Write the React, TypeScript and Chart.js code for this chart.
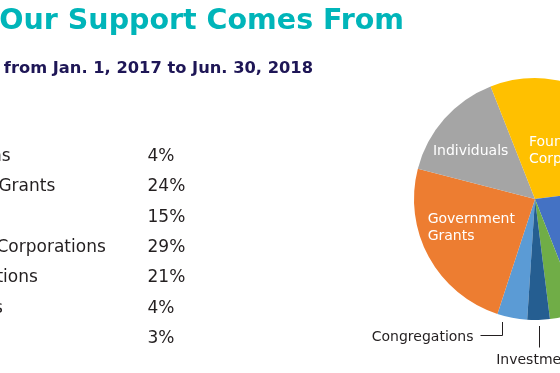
import React, { useEffect, useRef } from "react";
import { Chart, registerables } from "chart.js";

Chart.register(...registerables);

// ---------- data ----------
const categories = [
  "Congregations",
  "Government Grants",
  "Individuals",
  "Foundations/Corporations",
  "In-Kind Donations",
  "Program Fees",
  "Investments",
];
const shares = [4, 24, 15, 29, 21, 4, 3];
const pieLabelLines = [
  ["Congregations"],
  ["Government", "Grants"],
  ["Individuals"],
  ["Foundations/", "Corporations"],
  ["In-Kind", "Donations"],
  ["Program Fees"],
  ["Investments"],
];
const titleText = "Where Our Support Comes From";
const subtitlePrefix = "Revenue";
const subtitleText = "from Jan. 1, 2017 to Jun. 30, 2018";

// ---------- styles ----------
const sliceColors = ["#5B9BD5", "#ED7D31", "#A5A5A5", "#FFC000", "#4472C4", "#70AD47", "#255E91"];
const FONT = "'DejaVu Sans', 'Noto Sans', sans-serif";
const TEAL = "#00B5B9";
const NAVY = "#1E1656";
const INK = "#231F20";

const CANVAS_W = 800;
const CANVAS_H = 373;

type LabelStyle =
  | { mode: "inside"; dx: number; dy: number }
  | { mode: "elbowLeft" | "elbowRight"; frac: number; drop: number; run: number; gap: number }
  | { mode: "down"; frac: number; drop: number; gap: number };

const labelStyles: LabelStyle[] = [
  { mode: "elbowLeft", frac: 0.8, drop: 13, run: 22, gap: 7 },
  { mode: "inside", dx: 0, dy: -7.5 },
  { mode: "inside", dx: -10, dy: -1.5 },
  { mode: "inside", dx: 2, dy: 12.5 },
  { mode: "inside", dx: 0, dy: 0 },
  { mode: "elbowRight", frac: 0.5, drop: 13, run: 22, gap: 7 },
  { mode: "down", frac: 0.5, drop: 21, gap: 6 },
];

const overlayPlugin = {
  id: "overlay",
  afterDatasetsDraw(chart: any) {
    const ctx: CanvasRenderingContext2D = chart.ctx;
    ctx.save();
    ctx.textBaseline = "alphabetic";

    // title
    ctx.font = `700 28.5px ${FONT}`;
    ctx.fillStyle = TEAL;
    ctx.textAlign = "right";
    ctx.fillText(titleText, 404, 29);

    // subtitle
    ctx.font = `700 16.3px ${FONT}`;
    ctx.fillStyle = NAVY;
    ctx.textAlign = "right";
    ctx.fillText(subtitleText, 313, 73);
    ctx.fillText(subtitlePrefix, -2, 73);

    // table
    ctx.font = `400 17px ${FONT}`;
    ctx.fillStyle = INK;
    ctx.textAlign = "left";
    categories.forEach((c, i) => {
      const y = 160.8 + i * 30.4;
      ctx.fillText(c, -113, y);
      ctx.fillText(`${shares[i]}%`, 147.5, y);
    });

    // pie labels
    const meta = chart.getDatasetMeta(0);
    const fs = 14;
    const capH = fs * 0.73;
    const lh = 17;
    meta.data.forEach((arc: any, i: number) => {
      const p = arc.getProps(["x", "y", "startAngle", "endAngle", "outerRadius"], true);
      const st = labelStyles[i];
      const lines = pieLabelLines[i];
      ctx.font = `400 ${fs}px ${FONT}`;
      if (st.mode === "inside") {
        const mid = (p.startAngle + p.endAngle) / 2;
        const cx = p.x + 0.6 * p.outerRadius * Math.cos(mid) + st.dx;
        const cy = p.y + 0.6 * p.outerRadius * Math.sin(mid) + st.dy;
        const w = Math.max(...lines.map((l) => ctx.measureText(l).width));
        ctx.fillStyle = "#FFFFFF";
        ctx.textAlign = "left";
        lines.forEach((l, k) => {
          ctx.fillText(l, cx - w / 2, cy + (k - (lines.length - 1) / 2) * lh + capH / 2);
        });
      } else {
        const a = p.startAngle + st.frac * (p.endAngle - p.startAngle);
        const ax = Math.round(p.x + (p.outerRadius + 6) * Math.cos(a)) + 0.5;
        const ay = Math.round(p.y + (p.outerRadius + 6) * Math.sin(a));
        ctx.strokeStyle = INK;
        ctx.lineWidth = 1;
        ctx.fillStyle = INK;
        ctx.beginPath();
        ctx.moveTo(ax, ay);
        const by = ay + st.drop + 0.5;
        ctx.lineTo(ax, by);
        if (st.mode === "elbowLeft") {
          ctx.lineTo(ax - st.run, by);
          ctx.stroke();
          ctx.textAlign = "right";
          ctx.fillText(lines[0], ax - st.run - st.gap, by + capH / 2);
        } else if (st.mode === "elbowRight") {
          ctx.lineTo(ax + st.run, by);
          ctx.stroke();
          ctx.textAlign = "left";
          ctx.fillText(lines[0], ax + st.run + st.gap, by + capH / 2);
        } else {
          ctx.stroke();
          ctx.textAlign = "center";
          ctx.fillText(lines[0], ax, by + st.gap + capH);
        }
      }
    });
    ctx.restore();
  },
};

export default function App() {
  const ref = useRef<HTMLCanvasElement | null>(null);
  useEffect(() => {
    if (!ref.current) return;
    const chart = new Chart(ref.current, {
      type: "pie",
      data: {
        labels: categories,
        datasets: [
          {
            data: shares,
            backgroundColor: sliceColors,
            borderWidth: 0,
          },
        ],
      },
      options: {
        responsive: false,
        animation: false,
        rotation: 183.7,
        layout: { padding: { left: 414, right: CANVAS_W - 656, top: 78, bottom: CANVAS_H - 320 } },
        plugins: {
          legend: { display: false },
          tooltip: { enabled: false },
        },
      },
      plugins: [overlayPlugin],
    } as any);
    return () => chart.destroy();
  }, []);
  return (
    <div
      style={{
        position: "fixed",
        left: 0,
        top: 0,
        width: 560,
        height: 373,
        overflow: "hidden",
        background: "#FFFFFF",
      }}
    >
      <canvas
        ref={ref}
        width={CANVAS_W}
        height={CANVAS_H}
        style={{ position: "absolute", left: 0, top: 0, width: CANVAS_W, height: CANVAS_H }}
      />
    </div>
  );
}
